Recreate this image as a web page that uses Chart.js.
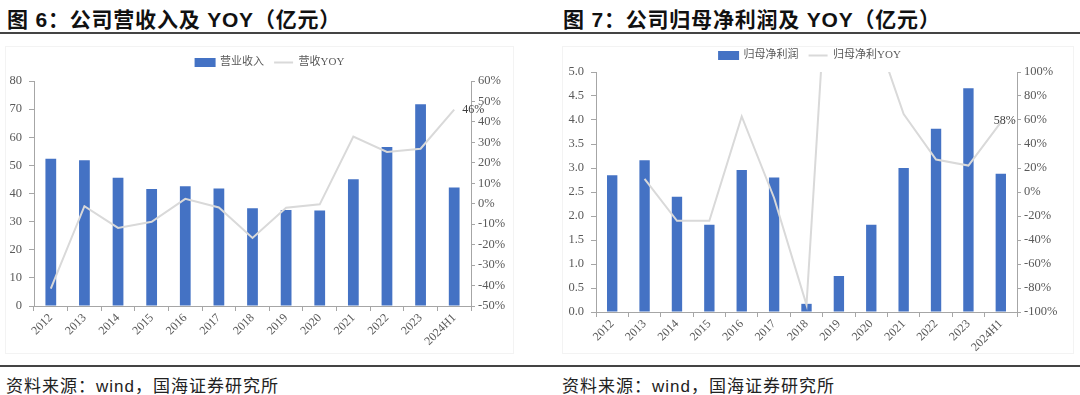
<!DOCTYPE html>
<html>
<head>
<meta charset="utf-8">
<script src="https://cdn.jsdelivr.net/npm/chart.js@4.4.1/dist/chart.umd.min.js"></script>
<style>
  body { margin: 0; background: #fff; width: 1080px; height: 395px; position: relative; overflow: hidden; }
  .title { position: absolute; top: 3px; font: bold 21px "Liberation Sans", "Noto Sans CJK SC", sans-serif; letter-spacing: 0.8px; color: #111; white-space: nowrap; }
  .src { position: absolute; top: 372px; font: 17px "Liberation Sans", "Noto Sans CJK SC", sans-serif; letter-spacing: 1px; color: #222; white-space: nowrap; }
  .rule { position: absolute; left: 0; width: 1080px; height: 2px; background: #444; }
  .box { position: absolute; border: 1px solid #f3f3f3; }
  canvas { position: absolute; }
</style>
</head>
<body>
<div class="title" style="left:7px">图 6：公司营收入及 YOY（亿元）</div>
<div class="title" style="left:563px">图 7：公司归母净利润及 YOY（亿元）</div>
<div class="rule" style="top:32px"></div>
<div class="rule" style="top:365px"></div>
<div class="box" style="left:5px;top:46px;width:507px;height:306px"></div>
<div class="box" style="left:562px;top:46px;width:510px;height:306px"></div>
<canvas id="c1" style="left:0;top:40px" width="540" height="316"></canvas>
<canvas id="c2" style="left:540px;top:40px" width="540" height="316"></canvas>
<div class="src" style="left:6px">资料来源：wind，国海证券研究所</div>
<div class="src" style="left:562px">资料来源：wind，国海证券研究所</div>
<script>
// categories
const years = ['2012', '2013', '2014', '2015', '2016', '2017', '2018', '2019', '2020', '2021', '2022', '2023', '2024H1'];

// chart 1: revenue (亿元) and yoy (%)
const revenue = [52.4, 51.8, 45.6, 41.6, 42.6, 41.8, 34.8, 34.1, 34.0, 45.1, 56.5, 71.7, 42.1];
const revenueYoy = [-41.5, -1.2, -11.8, -8.8, 2.4, -1.8, -16.7, -2.0, -0.3, 32.8, 25.3, 26.9, 46];

// chart 2: net profit attributable to parent (亿元) and yoy (%)
const netProfit = [2.85, 3.16, 2.40, 1.82, 2.96, 2.80, 0.17, 0.75, 1.82, 3.00, 3.82, 4.66, 2.88];
const netProfitYoy = [null, 11, -24, -24, 63, -5, -94, 341, 143, 65, 27, 22, 58];

const BLUE = '#4472C4';
const GRAY = '#D9D9D9';
const AXIS = '#A6A6A6';
const TXT = '#595959';
const serif = '"Liberation Serif", "Noto Sans CJK SC", serif';

// draws the last yoy value next to its point
const lastLabel = {
  id: 'lastLabel',
  afterDatasetsDraw(chart, args, opts) {
    const meta = chart.getDatasetMeta(1);
    const pt = meta.data[meta.data.length - 1];
    const ds = chart.data.datasets[1].data;
    const ctx = chart.ctx;
    ctx.save();
    ctx.font = '12px ' + serif;
    ctx.fillStyle = '#404040';
    ctx.textAlign = opts.align;
    ctx.textBaseline = 'middle';
    ctx.fillText(Math.round(ds[ds.length - 1]) + '%', pt.x + opts.dx, pt.y + opts.dy);
    ctx.restore();
  }
};

// a bit of extra room under the legend
const legendGap = {
  id: 'legendGap',
  afterInit(chart, args, opts) {
    const fit = chart.legend.fit;
    chart.legend.fit = function () { fit.call(this); this.height += opts.extra; };
  }
};

function makeChart(id, barName, lineName, bars, yoy, cfg) {
  return new Chart(document.getElementById(id), {
    type: 'bar',
    data: {
      labels: years,
      datasets: [
        { type: 'bar', label: barName, data: bars, backgroundColor: BLUE, yAxisID: 'y',
          barPercentage: 0.32, categoryPercentage: 1, order: 1 },
        { type: 'line', label: lineName, data: yoy, borderColor: GRAY, backgroundColor: GRAY,
          borderWidth: 2, pointRadius: 0, tension: 0, yAxisID: 'y1', order: 0 }
      ]
    },
    options: {
      responsive: false,
      animation: false,
      layout: { padding: { top: cfg.padTop, left: 0, right: 0, bottom: 0 } },
      plugins: {
        tooltip: { enabled: false },
        legend: {
          position: 'top',
          labels: {
            font: { family: serif, size: 11 },
            color: TXT,
            padding: 10,
            boxHeight: 7,
            usePointStyle: true,
            pointStyleWidth: 19,
            generateLabels(chart) {
              return chart.data.datasets.map((d, i) => ({
                text: d.label,
                fillStyle: d.type === 'bar' ? BLUE : GRAY,
                strokeStyle: d.type === 'bar' ? BLUE : GRAY,
                lineWidth: 2,
                pointStyle: d.type === 'bar' ? 'rect' : 'line',
                datasetIndex: i,
                fontColor: TXT
              }));
            }
          }
        },
        legendGap: { extra: cfg.legExtra },
        lastLabel: cfg.label
      },
      scales: {
        x: {
          grid: { display: true, drawOnChartArea: false, drawTicks: true, tickLength: 5, color: AXIS, offset: true },
          border: { color: AXIS },
          ticks: { font: { family: serif, size: 12 }, color: TXT, minRotation: 45, maxRotation: 45, padding: 0 },
          afterFit(s) { s.height = cfg.xH; }
        },
        y: {
          position: 'left',
          min: cfg.yMin, max: cfg.yMax,
          grid: { drawOnChartArea: false, drawTicks: true, tickLength: 5, color: AXIS },
          border: { color: AXIS },
          ticks: { stepSize: cfg.yStep, font: { family: serif, size: 12.5 }, color: TXT, padding: 7,
            callback: v => cfg.yFmt(v) },
          afterFit(s) { s.width = cfg.yW; }
        },
        y1: {
          position: 'right',
          min: cfg.rMin, max: cfg.rMax,
          grid: { drawOnChartArea: false, drawTicks: true, tickLength: 4, color: AXIS },
          border: { color: AXIS },
          ticks: { stepSize: cfg.rStep, font: { family: serif, size: 12.5 }, color: TXT, padding: 3,
            callback: v => v + '%' },
          afterFit(s) { s.width = cfg.rW; }
        }
      }
    },
    plugins: [legendGap, lastLabel]
  });
}

makeChart('c1', '营业收入', '营收YOY', revenue, revenueYoy, {
  padTop: 7, legExtra: 3, xH: 50, yW: 34, rW: 69,
  yMin: 0, yMax: 80, yStep: 10, yFmt: v => v,
  rMin: -50, rMax: 60, rStep: 10,
  label: { align: 'left', dx: 8, dy: 0 }
});

makeChart('c2', '归母净利润', '归母净利YOY', netProfit, netProfitYoy, {
  padTop: 0, legExtra: 1, xH: 44, yW: 56, rW: 63,
  yMin: 0, yMax: 5, yStep: 0.5, yFmt: v => v.toFixed(1),
  rMin: -100, rMax: 100, rStep: 20,
  label: { align: 'center', dx: 4, dy: -2 }
});
</script>
</body>
</html>
